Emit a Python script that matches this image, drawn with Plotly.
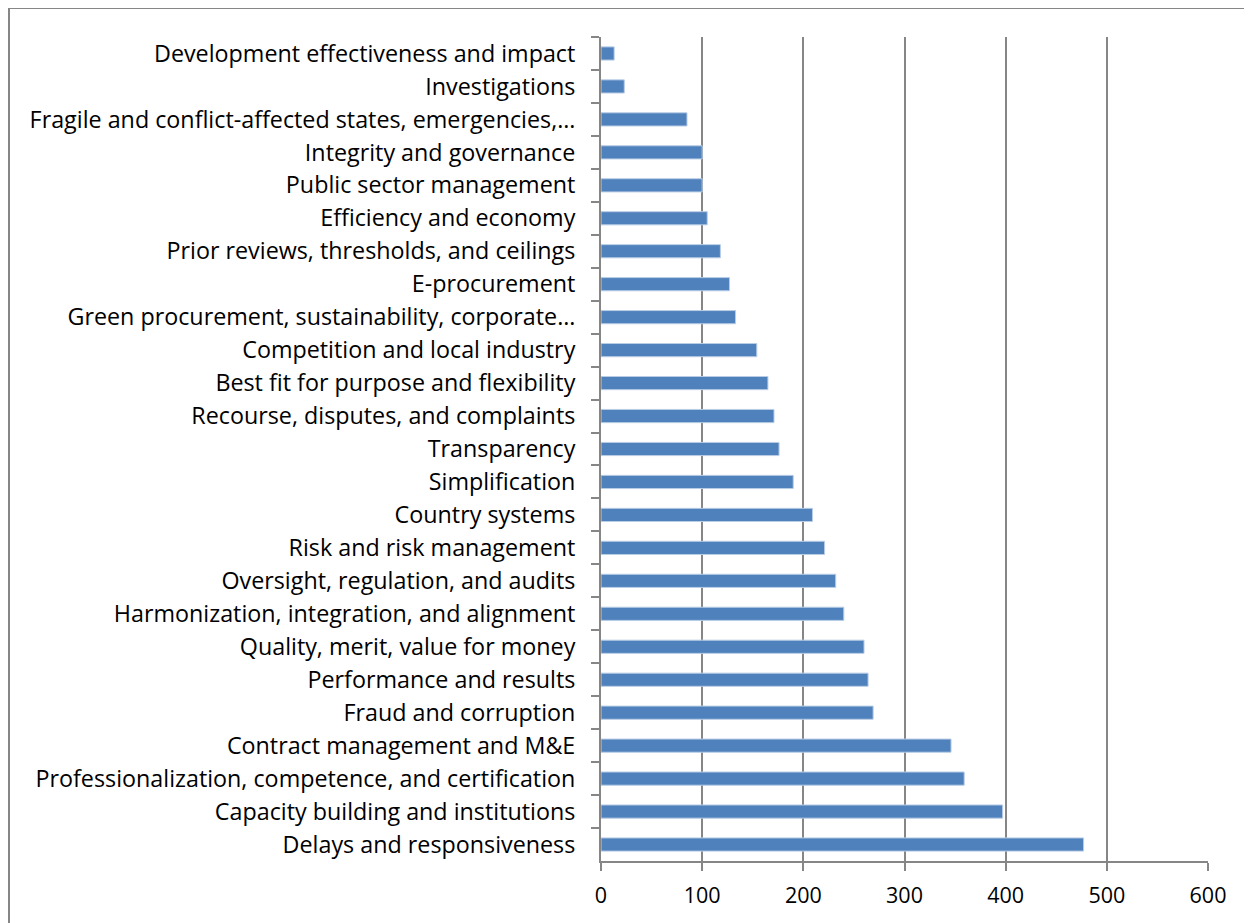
import plotly.graph_objects as go

categories = [
    "Development effectiveness and impact",
    "Investigations",
    "Fragile and conflict-affected states, emergencies,…",
    "Integrity and governance",
    "Public sector management",
    "Efficiency and economy",
    "Prior reviews, thresholds, and ceilings",
    "E-procurement",
    "Green procurement, sustainability, corporate…",
    "Competition and local industry",
    "Best fit for purpose and flexibility",
    "Recourse, disputes, and complaints",
    "Transparency",
    "Simplification",
    "Country systems",
    "Risk and risk management",
    "Oversight, regulation, and audits",
    "Harmonization, integration, and alignment",
    "Quality, merit, value for money",
    "Performance and results",
    "Fraud and corruption",
    "Contract management and M&E",
    "Professionalization, competence, and certification",
    "Capacity building and institutions",
    "Delays and responsiveness",
]
values = [13, 23, 85, 100, 100, 105, 118, 127, 133, 154, 165, 171, 176, 190,
          209, 221, 232, 240, 260, 264, 269, 346, 359, 397, 477]
x_ticks = [0, 100, 200, 300, 400, 500, 600]

# page has an 8px body margin; figure drawn inside it
W, H = 1244, 915
L, R, T, B = 593, 44, 29, 62

fig = go.Figure(go.Bar(
    x=values, y=categories, orientation="h", width=0.4,
    marker=dict(color="#4F81BD", line=dict(color="#B9CDE5", width=1)),
))

fig.update_layout(
    width=W, height=H,
    margin=dict(l=L, r=R, t=T, b=B),
    paper_bgcolor="white", plot_bgcolor="white",
    font=dict(family="Open Sans, Liberation Sans, sans-serif", size=21.5, color="black"),
    showlegend=False,
)
fig.update_xaxes(
    range=[0, 600], tickvals=x_ticks, ticktext=[str(v) for v in x_ticks],
    showgrid=True, gridcolor="#868686", gridwidth=2,
    showline=True, linecolor="#868686", linewidth=2,
    ticks="outside", ticklen=8, tickcolor="#868686", tickwidth=2,
    zeroline=False, ticklabelstandoff=6, tickfont=dict(size=21.5),
)
fig.update_yaxes(
    type="category", autorange="reversed", tickson="boundaries",
    showgrid=False, showline=True, linecolor="#868686", linewidth=2,
    ticks="outside", ticklen=8, tickcolor="#868686", tickwidth=2,
    ticklabelstandoff=19, tickfont=dict(size=23.3),
)
# outer chart border
pw, ph = W - L - R, H - T - B
fig.add_shape(type="rect", xref="paper", yref="paper",
              x0=(1 - L) / pw, x1=(W + 20 - L) / pw,
              y0=-(B + 20) / ph, y1=1 + T / ph,
              line=dict(color="#868686", width=2), fillcolor="rgba(0,0,0,0)",
              layer="below")

fig.write_html("out.html")
